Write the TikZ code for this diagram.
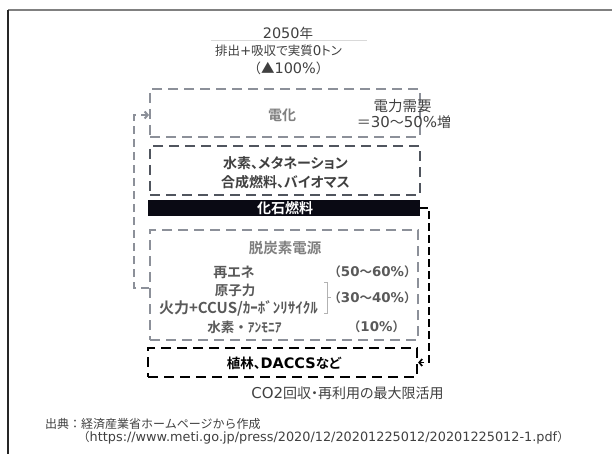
\documentclass[tikz,border=0pt]{standalone}
\usepackage{fontspec}
\setmainfont{Noto Sans CJK JP}[BoldFont={Noto Sans CJK JP Bold}]
\newfontfamily\jp{Noto Sans CJK JP}[RawFeature=+palt, BoldFont={Noto Sans CJK JP Bold}]
\newfontfamily\lt{DejaVu Sans}[Scale=1.07, BoldFont={DejaVu Sans Bold}]
\usetikzlibrary{arrows.meta}
\definecolor{boxgray}{HTML}{8C9099}
\definecolor{darkbox}{HTML}{50555E}
\definecolor{txtgray}{HTML}{7F7F7F}
\definecolor{txtdark}{HTML}{404040}
\definecolor{txtmid}{HTML}{595959}
\definecolor{barblack}{HTML}{0A0A14}
\definecolor{linegray}{HTML}{D9D9D9}
\newcommand{\fsz}[1]{\fontsize{#1}{#1}\selectfont}
\begin{document}
\begin{tikzpicture}[x=1pt,y=-1pt,
  dashbox/.style={dash pattern=on 10pt off 6pt, line width=2.2pt, inner sep=0pt},
  gbox/.style={dashbox, draw=boxgray},
  dbox/.style={dashbox, draw=darkbox},
  kbox/.style={dashbox, draw=black},
  lbl/.style={inner sep=0pt},
  gconn/.style={draw=boxgray, line width=2pt, dash pattern=on 8pt off 5pt, -{Straight Barb[length=3pt,width=7pt]}},
  kconn/.style={draw=black, line width=1.7pt, dash pattern=on 8pt off 4pt, -{Straight Barb[length=3pt,width=7pt]}}
]
\useasboundingbox (0,0) rectangle (612,454);
% frame
\draw[line width=2pt, draw=gray] (8,10) -- (612,10);
\draw[line width=1.5pt, draw=black!85] (8,10) -- (8,454);

% title
\node[lbl, text=txtdark, font=\fsz{13.5}] (t1) at (288,33) {{\lt 2050}年};
\draw[linegray, line width=1pt] (211,41) -- (367,41);
\node[lbl, text=txtdark, font=\jp\fsz{12.5}] (t2) at (278.5,51) {排出{\lt +}吸収で実質{\lt 0}トン};
\node[lbl, text=txtdark, font=\fsz{13.5}] (t3) at (288.5,68) {（▲{\lt 100\%}）};

% electrification box
\node[gbox, minimum width=270pt, minimum height=48pt] (elec) at (285,113) {};
\node[lbl, text=txtgray, font=\fsz{14}\bfseries] (elecT) at (282,115) {電化};
\node[lbl, text=txtdark, font=\fsz{14.5}] (dem1) at (402.5,106) {電力需要};
\node[lbl, text=txtdark, font=\fsz{14}] (dem2) at (404,122) {＝{\lt 30}～{\lt 50\%}増};

% hydrogen box
\node[dbox, minimum width=270pt, minimum height=49pt] (h2) at (285,170.5) {};
\node[lbl, text=txtdark, align=center, font=\jp\fontsize{14}{19}\selectfont\bfseries] (h2T) at (285.5,172.5) {水素、メタネーション\\合成燃料、バイオマス};

% fossil bar
\node[fill=barblack, minimum width=272pt, minimum height=16pt, inner sep=0pt] (fossil) at (284,208) {};
\node[lbl, text=white, font=\fsz{14}\bfseries] (fossilT) at (285,208) {化石燃料};

% decarbonised power box
\node[gbox, minimum width=268pt, minimum height=110pt] (dec) at (284,285) {};
\node[lbl, text=txtgray, font=\fsz{14.5}\bfseries] (decT) at (285,248) {脱炭素電源};
\node[lbl, text=txtmid, font=\jp\fsz{14}\bfseries] (i1) at (234,272) {再エネ};
\node[lbl, text=txtmid, font=\fsz{13.5}\bfseries] (i2) at (235,290) {原子力};
\node[lbl, text=txtmid, font=\fsz{15}\bfseries] (i3) at (238.5,308) {火力+CCUS/ｶｰﾎﾞﾝﾘｻｲｸﾙ};
\node[lbl, text=txtmid, font=\fsz{13.5}\bfseries] (i4) at (244.5,327) {水素・ｱﾝﾓﾆｱ};
\node[lbl, text=txtmid, font=\fsz{12.5}\bfseries] (p1) at (372.5,272) {（{\lt 50}～{\lt 60\%}）};
\node[lbl, text=txtmid, font=\fsz{12.5}\bfseries] (p2) at (372.5,298) {（{\lt 30}～{\lt 40\%}）};
\node[lbl, text=txtmid, font=\fsz{12.5}\bfseries] (p3) at (376.5,327) {（{\lt 10\%}）};
\draw[txtgray!60, line width=0.6pt] (324,282) -- (327.5,282) -- (327.5,313) -- (324,313);
\draw[txtgray!60, line width=0.6pt] (327.5,297.5) -- (330.5,297.5);

% DACCS box
\node[kbox, minimum width=269pt, minimum height=29pt] (dac) at (282.5,362.5) {};
\node[lbl, text=black, font=\jp\fsz{13.5}\bfseries] (dacT) at (284,363) {植林、{\lt DACCS}など};
\node[lbl, text=txtdark, font=\jp\fsz{14}] (co2) at (347.5,393) {{\lt CO2}回収・再利用の最大限活用};

% connectors
\coordinate (lA) at (149,288);
\coordinate (lB) at (149,115);
\draw[gconn] (lA) -- (134,288) |- (lB);
\draw[kconn] (fossil.east) -- (429,208) |- (dac.east);

% footer
\node[anchor=west, lbl, font=\fsz{12}, text=txtdark] (src) at (45,424) {出典：経済産業省ホームページから作成};
\node[anchor=west, lbl, font=\fsz{12}, text=txtdark] (url) at (77.5,438) {（{\lt https://www.meti.go.jp/press/2020/12/20201225012/20201225012-1.pdf}）};
\end{tikzpicture}
\end{document}
